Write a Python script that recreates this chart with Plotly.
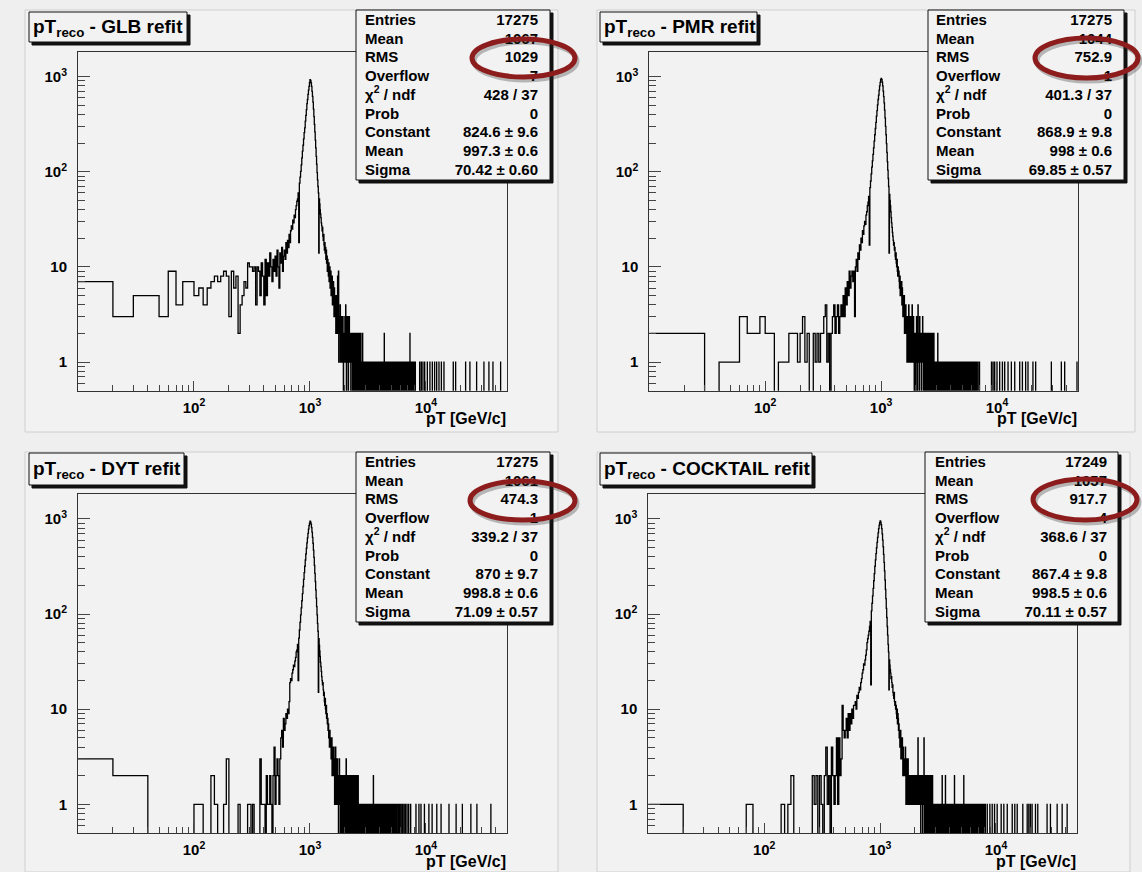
import numpy as np
import plotly.graph_objects as go

W, H = 1142, 872
BIN_WIDTH = 10          # GeV/c per bin
N_BINS = 5000           # 0 - 50000 GeV/c
CORE_START = 400        # pT of the first bin in the *_core arrays
X_RANGE = [1.0, np.log10(50000)]
Y_RANGE = [np.log10(0.5), 3.262]

# ---------------- GLB refit ----------------
glb_low = [(10, 7), (20, 3), (30, 5), (40, 5), (50, 3), (60, 9), (70, 4), (80, 7), (90, 7),
           (100, 5), (110, 6), (120, 4), (130, 6), (140, 7), (150, 8), (160, 7), (170, 8), (180, 9),
           (190, 8), (200, 3), (210, 9), (220, 6), (230, 8), (240, 2), (250, 4), (260, 5), (270, 7),
           (280, 6), (290, 11), (300, 10), (310, 10), (320, 9), (330, 10), (340, 4), (350, 10),
           (360, 9), (370, 5), (380, 11), (390, 8)]
glb_core = [
    4, 12, 5, 11, 8, 14, 10, 7, 12, 9,
    13, 8, 15, 10, 6, 14, 11, 16, 9, 13,
    15, 12, 18, 14, 19, 16, 22, 18, 24, 27,
    25, 31, 29, 35, 33, 40, 44, 49, 52, 60,
    18, 76, 88, 101, 118, 140, 165, 190, 222, 258,
    290, 340, 392, 450, 520, 575, 650, 720, 790, 870,
    930, 905, 860, 790, 700, 620, 540, 455, 380, 315,
    262, 215, 178, 145, 120, 98, 82, 70, 60, 14,
    52, 46, 40, 36, 33, 29, 27, 24, 26, 21,
    19, 22, 17, 15, 18, 14, 16, 12, 15, 11,
    13, 9, 12, 10, 8, 11, 7, 9, 10, 6,
    8, 9, 5, 7, 6, 8, 4, 6, 5, 7,
    5, 3, 6, 4, 5, 3, 4, 2, 5, 3,
    4, 2, 3, 8, 2, 3, 9, 1, 3, 2,
    3, 2, 4, 1, 3, 2, 2, 3, 1, 2,
    2, 1, 3, 2, 0, 2, 1, 2, 1, 2,
    3, 1, 2, 4, 1, 2, 0, 3, 2, 1,
    2, 1, 3, 2, 0, 2, 2, 1, 3, 2,
    2, 2, 1, 2, 2, 0, 2, 1, 2, 2,
    1, 2, 2, 0, 2, 1, 2, 2, 1, 0,
    2, 2, 1, 2, 0, 2, 1, 2, 2, 1,
    0, 2, 1, 2, 1, 2, 0, 2, 1, 1,
    2, 1, 0, 2, 2, 1, 1, 2, 0, 1,
    2, 0, 1, 1, 2, 0, 1, 1, 0, 1,
    0, 1, 1, 0, 2, 1, 0, 1, 1, 0,
    1, 0, 1, 1, 0, 1, 0, 1, 0, 1]
glb_tail = [3020, 3070, 3110, 3160, 3190, 3240, 3300, 3350, 3380, 3420, 3470, 3530, 3580, 3610,
            3660, 3720, 3790, 3830, 3880, 3950, 4010, 4060, 4120, 4180, 4250, 4310, 4420, 4490,
            4560, 4620, 4700, 4770, 4830, 4910, 4990, 5060, 5150, 5230, 5320, 5400, 5480, 5590,
            5680, 5760, 5870, 5960, 6080, 6170, 6290, 6400, 6520, 6650, 6760, 6900, 7040, 7180,
            7330, 7490, 7650, 7800, 7960, 8100,
            8830, 9120, 9420, 9750, 10280, 10820, 11350, 11880, 12370, 12950, 13580, 14300,
            17200, 18030, 21980, 23940, 27350, 31620, 34910, 37830, 44040]
glb_tail2 = [4370, 7280]
glb_stats = ["17275", "1067", "1029", "7", "428 / 37", "0",
             "824.6 ± 9.6", "997.3 ± 0.6", "70.42 ± 0.60"]

# ---------------- PMR refit ----------------
pmr_low = [(10, 2), (20, 2), (40, 1), (50, 1), (60, 3), (70, 2), (80, 2), (90, 3), (100, 2),
           (110, 2), (130, 1), (140, 1), (150, 1), (160, 2), (170, 2), (180, 2), (190, 1),
           (200, 2), (210, 3), (220, 1), (230, 2), (260, 2), (270, 1), (280, 2), (290, 1),
           (300, 2), (310, 2), (320, 3), (330, 4), (340, 1), (350, 2), (370, 2), (380, 3), (390, 4)]
pmr_core = [
    2, 3, 4, 2, 3, 4, 3, 5, 3, 6,
    4, 7, 5, 9, 6, 8, 9, 7, 9, 3,
    10, 12, 9, 14, 12, 17, 15, 20, 18, 24,
    22, 27, 30, 28, 35, 38, 44, 48, 55, 17,
    68, 80, 95, 112, 130, 152, 178, 210, 245, 285,
    330, 385, 440, 505, 575, 640, 720, 800, 870, 930,
    960, 930, 875, 800, 705, 615, 530, 445, 368, 300,
    245, 198, 160, 128, 104, 85, 70, 14, 58, 50,
    44, 38, 33, 29, 26, 23, 21, 19, 17, 18,
    15, 16, 13, 12, 14, 11, 10, 12, 9, 8,
    10, 8, 9, 7, 6, 8, 5, 7, 6, 5,
    7, 4, 6, 5, 3, 5, 4, 3, 5, 2,
    4, 3, 2, 4, 3, 2, 3, 1, 3, 2,
    3, 2, 1, 4, 2, 2, 3, 1, 2, 2,
    1, 3, 2, 1, 2, 4, 1, 2, 1, 2,
    3, 1, 2, 0, 2, 1, 2, 1, 0, 2,
    2, 1, 3, 1, 2, 0, 2, 1, 4, 1,
    2, 2, 1, 0, 2, 3, 1, 2, 1, 2,
    1, 2, 0, 2, 1, 2, 2, 1, 3, 1,
    2, 0, 1, 2, 1, 2, 0, 1, 2, 1,
    1, 2, 1, 0, 2, 1, 1, 2, 0, 1,
    2, 1, 0, 1, 2, 1, 0, 1, 1, 2,
    0, 1, 2, 1, 0, 1, 2, 0, 1, 1,
    0, 2, 1, 0, 1, 1, 0, 2, 1, 0,
    1, 1, 0, 1, 0, 2, 1, 0, 1, 0,
    1, 0, 1, 1, 0, 0, 1, 0, 1, 1]
pmr_tail = [3040, 3150, 3200, 3260, 3310, 3370, 3420, 3490, 3550, 3600, 3680, 3740, 3810, 3870,
            3950, 4020, 4090, 4170, 4240, 4330, 4410, 4500, 4580, 4680, 4770, 4870, 4980, 5090,
            5200, 5320, 5450, 5570, 5700, 5840, 5990, 6150, 6310, 6480, 6660, 6850, 7060,
            8960, 9250, 9550, 10000, 10540, 11130, 11650, 12450, 13300, 14220, 15700, 16560,
            17670, 18510, 20420, 21560, 29440, 35900, 38370, 49000]
pmr_tail2 = [3080]
pmr_stats = ["17275", "1044", "752.9", "1", "401.3 / 37", "0",
             "868.9 ± 9.8", "998 ± 0.6", "69.85 ± 0.57"]

# ---------------- DYT refit ----------------
dyt_low = [(10, 3), (20, 2), (30, 2), (100, 1), (110, 1), (140, 2), (150, 1), (180, 1), (190, 3),
           (240, 1), (290, 1), (300, 1), (320, 1), (370, 3), (380, 1), (390, 1)]
dyt_core = [
    1, 0, 2, 1, 1, 2, 1, 0, 2, 4,
    1, 2, 3, 2, 1, 3, 5, 6, 4, 8,
    6, 7, 9, 8, 10, 9, 12, 19, 21, 20,
    24, 26, 29, 28, 32, 35, 40, 42, 48, 20,
    56, 68, 82, 98, 116, 138, 164, 195, 232, 272,
    318, 370, 428, 492, 560, 632, 705, 780, 850, 905,
    945, 925, 880, 810, 725, 640, 555, 470, 395, 325,
    268, 220, 180, 147, 120, 98, 80, 66, 15, 55,
    47, 41, 36, 31, 28, 25, 22, 20, 18, 19,
    16, 14, 15, 12, 11, 13, 10, 9, 11, 8,
    9, 7, 8, 6, 7, 5, 6, 4, 6, 5,
    4, 5, 3, 4, 5, 2, 4, 3, 3, 2,
    4, 2, 3, 1, 3, 2, 4, 2, 1, 3,
    2, 1, 3, 2, 1, 2, 0, 2, 1, 3,
    1, 2, 1, 0, 2, 1, 1, 2, 0, 1,
    2, 1, 0, 1, 2, 0, 1, 1, 0, 1,
    2, 1, 0, 2, 1, 3, 1, 2, 0, 1,
    2, 1, 2, 0, 1, 2, 2, 1, 0, 2,
    1, 2, 1, 1, 0, 2, 1, 2, 1, 0,
    2, 1, 0, 1, 2, 1, 1, 0, 2, 1,
    0, 1, 2, 1, 0, 1, 1, 2, 0, 1,
    1, 0, 1, 2, 0, 1, 0, 1, 1, 0,
    2, 1, 0, 1, 1, 0, 1, 0, 1, 1,
    0, 1, 0, 1, 0, 1, 1, 0, 0, 1,
    1, 0, 1, 0, 1, 0, 0, 1, 0, 1,
    0, 1, 0, 0, 1, 1, 0, 1, 0, 0]
dyt_tail = [3050, 3100, 3180, 3230, 3290, 3360, 3410, 3480, 3620, 3690, 3750, 3830, 3910,
            3980, 4060, 4150, 4230, 4320, 4400, 4510, 4600, 4710, 4820, 4940, 5060, 5190, 5320,
            5460, 5600, 5760, 5920, 6090, 6270, 6460, 6650, 6870, 7100, 7380,
            8200, 8700, 9060, 9700, 10600, 11300, 12400, 13500, 15800, 18200, 20600, 24400,
            27500, 36300]
dyt_tail2 = [3520]
dyt_stats = ["17275", "1061", "474.3", "1", "339.2 / 37", "0",
             "870 ± 9.7", "998.8 ± 0.6", "71.09 ± 0.57"]

# ---------------- COCKTAIL refit ----------------
cocktail_low = [(10, 1), (70, 1), (140, 1), (160, 1), (170, 2), (260, 2), (270, 1), (280, 2),
                (300, 2), (310, 1), (330, 2), (340, 4), (350, 1), (360, 2), (380, 4), (390, 2)]
cocktail_core = [
    1, 2, 5, 1, 5, 2, 3, 11, 6, 5,
    6, 8, 5, 9, 6, 9, 7, 10, 8, 11,
    11, 12, 10, 14, 13, 15, 17, 16, 19, 21,
    24, 26, 30, 29, 33, 37, 42, 50, 55, 60,
    66, 74, 84, 18, 108, 130, 155, 186, 224, 266,
    318, 372, 432, 498, 568, 640, 715, 790, 860, 915,
    955, 925, 870, 790, 695, 600, 510, 425, 350, 285,
    228, 182, 145, 115, 92, 74, 60, 48, 40, 16,
    33, 29, 26, 24, 21, 22, 19, 17, 18, 15,
    14, 13, 15, 12, 11, 12, 10, 11, 9, 8,
    10, 7, 9, 8, 6, 7, 5, 6, 4, 5,
    6, 3, 5, 4, 3, 5, 4, 2, 4, 3,
    2, 3, 2, 3, 2, 4, 2, 1, 2, 3,
    2, 2, 1, 2, 3, 1, 2, 2, 1, 2,
    2, 1, 2, 2, 1, 2, 2, 1, 2, 2,
    1, 2, 2, 1, 2, 2, 1, 2, 1, 2,
    2, 1, 2, 2, 1, 2, 1, 2, 2, 1,
    2, 2, 5, 1, 2, 2, 1, 2, 2, 1,
    2, 1, 2, 2, 0, 2, 1, 2, 1, 2,
    2, 1, 2, 0, 2, 1, 2, 2, 1, 5,
    1, 2, 0, 2, 1, 2, 1, 0, 2, 1,
    2, 1, 2, 0, 1, 2, 1, 2, 1, 0,
    2, 1, 1, 2, 0, 1, 2, 1, 0, 1,
    1, 2, 0, 1, 1, 0, 2, 1, 0, 1,
    1, 0, 1, 2, 1, 0, 1, 1, 0, 1,
    0, 1, 1, 0, 1, 0, 1, 0, 1, 1]
cocktail_tail = [3020, 3070, 3120, 3180, 3220, 3280, 3330, 3390, 3470, 3520, 3580, 3630, 3710,
                 3770, 3840, 3900, 3960, 4030, 4100, 4160, 4240, 4310, 4450, 4530, 4610, 4690,
                 4780, 4860, 4950, 5040, 5140, 5360, 5460, 5570, 5690, 5800, 5930, 6060, 6190,
                 6330, 6480, 6630, 6790, 6950, 7120, 7300, 7480, 7680, 7880, 8090,
                 8400, 8850, 9270, 9710, 10230, 11080, 11680, 12500, 13800, 14520, 15240,
                 17030, 18580, 19190, 19820, 20490, 21910, 22930, 27590, 29490, 33700, 37230,
                 41100]
cocktail_tail2 = [3430, 3660, 4380, 5270]
cocktail_stats = ["17249", "1057", "917.7", "4", "368.6 / 37", "0",
                  "867.4 ± 9.8", "998.5 ± 0.6", "70.11 ± 0.57"]

stat_labels = ["Entries", "Mean", "RMS", "Overflow", "χ<sup>2</sup> / ndf", "Prob",
               "Constant", "Mean", "Sigma"]

# axis ticks
x_major = [100, 1000, 10000]
x_major_text = ["10<sup>2</sup>", "10<sup>3</sup>", "10<sup>4</sup>"]
x_minor = [m * d for d in (10, 100, 1000) for m in range(2, 10)] + [20000, 30000, 40000, 50000]
y_major = [1, 10, 100, 1000]
y_major_text = ["1", "10", "10<sup>2</sup>", "10<sup>3</sup>"]
y_minor = [0.6, 0.7, 0.8, 0.9] + [m * d for d in (1, 10, 100) for m in range(2, 10)]

FONT = "Liberation Sans"
CANVAS = "#f2f2f2"
OUTSIDE = "#efefef"

panels = [
    dict(name="GLB", low=glb_low, core=glb_core, tail=glb_tail, tail2=glb_tail2, stats=glb_stats,
         frame=(78, 51.7, 507, 390.7), canvas=(25, 10, 558, 432), tbox=(29, 12, 187, 42),
         sbox=(356, 10, 550, 180), lab_x=365, val_x=538, row0=21, ell=(472, 39, 575, 77)),
    dict(name="PMR", low=pmr_low, core=pmr_core, tail=pmr_tail, tail2=pmr_tail2, stats=pmr_stats,
         frame=(649.3, 51.7, 1078, 390.7), canvas=(597, 10, 1135, 432), tbox=(600, 12, 757, 42),
         sbox=(928, 10, 1124, 180), lab_x=936, val_x=1112, row0=21, ell=(1035, 38, 1138, 78)),
    dict(name="DYT", low=dyt_low, core=dyt_core, tail=dyt_tail, tail2=dyt_tail2, stats=dyt_stats,
         frame=(78, 494, 507, 833), canvas=(25, 452, 558, 872), tbox=(29, 453, 184, 485),
         sbox=(356, 452, 550, 622), lab_x=365, val_x=538, row0=463, ell=(470, 481, 575, 520)),
    dict(name="COCKTAIL", low=cocktail_low, core=cocktail_core, tail=cocktail_tail,
         tail2=cocktail_tail2, stats=cocktail_stats,
         frame=(648.3, 494, 1077, 833), canvas=(597, 452, 1130, 872), tbox=(600, 453, 812, 485),
         sbox=(925, 452, 1118, 622), lab_x=935, val_x=1107, row0=463, ell=(1033, 479, 1137, 520)),
]


def px(x):
    return x / W


def py(y):
    return 1 - y / H


def build_counts(p):
    counts = np.zeros(N_BINS)
    for edge, n in p["low"]:
        counts[edge // BIN_WIDTH] += n
    start = CORE_START // BIN_WIDTH
    counts[start:start + len(p["core"])] += np.array(p["core"], dtype=float)
    for edge in p["tail"]:
        counts[edge // BIN_WIDTH] += 1
    for edge in p["tail2"]:
        counts[edge // BIN_WIDTH] += 2
    return counts


fig = go.Figure()
shapes = []
annotations = []

for i, p in enumerate(panels):
    sfx = "" if i == 0 else str(i + 1)
    counts = build_counts(p)
    lefts = np.arange(1, N_BINS) * BIN_WIDTH
    yv = counts[1:].copy()
    xs = np.append(lefts, N_BINS * BIN_WIDTH)
    ys = np.append(yv, yv[-1])
    ys[ys <= 0] = 0.05          # empty bins drop below the axis floor
    fig.add_trace(go.Scatter(x=xs, y=ys, mode="lines", line=dict(shape="hv", color="#000", width=1.3),
                             xaxis="x" + sfx, yaxis="y" + sfx, hoverinfo="skip", showlegend=False))

    x0, y0, x1, y1 = p["frame"]
    fig.layout["xaxis" + sfx] = dict(
        type="log", range=X_RANGE, domain=[px(x0), px(x1)], anchor="y" + sfx,
        showline=True, linecolor="#333", linewidth=1, mirror=True, showgrid=False, zeroline=False,
        ticks="inside", ticklen=10, tickwidth=1, tickcolor="#444",
        tickmode="array", tickvals=x_major, ticktext=x_major_text, ticklabelstandoff=3,
        tickfont=dict(family=FONT, size=15, color="black", weight="bold"),
        minor=dict(ticks="inside", ticklen=6, tickwidth=1, tickcolor="#444",
                   tickmode="array", tickvals=x_minor, showgrid=False),
        fixedrange=True)
    fig.layout["yaxis" + sfx] = dict(
        type="log", range=Y_RANGE, domain=[py(y1), py(y0)], anchor="x" + sfx,
        showline=True, linecolor="#333", linewidth=1, mirror=True, showgrid=False, zeroline=False,
        ticks="inside", ticklen=12, tickwidth=1, tickcolor="#444",
        tickmode="array", tickvals=y_major, ticktext=y_major_text, ticklabelstandoff=7,
        tickfont=dict(family=FONT, size=15, color="black", weight="bold"),
        minor=dict(ticks="inside", ticklen=7, tickwidth=1, tickcolor="#444",
                   tickmode="array", tickvals=y_minor, showgrid=False),
        fixedrange=True)

    # canvas panel behind everything
    cx0, cy0, cx1, cy1 = p["canvas"]
    shapes.append(dict(type="rect", xref="paper", yref="paper", layer="below",
                       x0=px(cx0), x1=px(cx1), y0=py(cy1), y1=py(cy0),
                       fillcolor=CANVAS, line=dict(color="#cfcfcf", width=1)))

    # x-axis title
    annotations.append(dict(text="pT [GeV/c]", xref="paper", yref="paper", x=px(x1 + 1), y=py(y1 + 28),
                            xanchor="right", yanchor="middle", showarrow=False,
                            font=dict(family=FONT, size=16, color="black", weight="bold")))

    # title box text
    tx0, ty0, tx1, ty1 = p["tbox"]
    annotations.append(dict(text="pT<sub>reco</sub> - %s refit" % p["name"], xref="paper", yref="paper",
                            x=px(tx0 + 2), y=py((ty0 + ty1) / 2 + 1), xanchor="left", yanchor="middle",
                            showarrow=False,
                            font=dict(family=FONT, size=19, color="black", weight="bold")))

# overlay subplot in pixel coordinates for boxes and stats text
fig.layout["xaxis5"] = dict(domain=[0, 1], range=[0, W], visible=False, fixedrange=True, anchor="y5")
fig.layout["yaxis5"] = dict(domain=[0, 1], range=[H, 0], visible=False, fixedrange=True, anchor="x5")


def box_path(x0, y0, x1, y1):
    return [x0, x1, x1, x0, x0], [y0, y0, y1, y1, y0]


for p in panels:
    for (bx0, by0, bx1, by1), sh in ((p["tbox"], 3), (p["sbox"], 3)):
        xs, ys = box_path(bx0 + sh, by0 + sh, bx1 + sh, by1 + sh)
        fig.add_trace(go.Scatter(x=xs, y=ys, mode="lines", fill="toself", fillcolor="#111",
                                 line=dict(color="#111", width=1), xaxis="x5", yaxis="y5",
                                 hoverinfo="skip", showlegend=False))
        xs, ys = box_path(bx0, by0, bx1, by1)
        fig.add_trace(go.Scatter(x=xs, y=ys, mode="lines", fill="toself", fillcolor=CANVAS,
                                 line=dict(color="#111", width=1), xaxis="x5", yaxis="y5",
                                 hoverinfo="skip", showlegend=False))
    rows = [p["row0"] + k * 18.75 for k in range(len(stat_labels))]
    tf = dict(family=FONT, size=15, color="black", weight="bold")
    fig.add_trace(go.Scatter(x=[p["lab_x"]] * len(rows), y=rows, mode="text", text=stat_labels,
                             textposition="middle right", textfont=tf, xaxis="x5", yaxis="y5",
                             hoverinfo="skip", showlegend=False))
    fig.add_trace(go.Scatter(x=[p["val_x"]] * len(rows), y=rows, mode="text", text=p["stats"],
                             textposition="middle left", textfont=tf, xaxis="x5", yaxis="y5",
                             hoverinfo="skip", showlegend=False))

    # highlight ring around the RMS value
    ex0, ey0, ex1, ey1 = p["ell"]
    shapes.append(dict(type="circle", xref="paper", yref="paper", layer="above",
                       x0=px(ex0 + 2), x1=px(ex1 + 2), y0=py(ey1 + 3), y1=py(ey0 + 3),
                       line=dict(color="rgba(40,40,40,0.30)", width=5)))
    shapes.append(dict(type="circle", xref="paper", yref="paper", layer="above",
                       x0=px(ex0), x1=px(ex1), y0=py(ey1), y1=py(ey0),
                       line=dict(color="#8d1c1c", width=5)))

fig.update_layout(width=W, height=H, margin=dict(l=0, r=0, t=0, b=0),
                  paper_bgcolor=OUTSIDE, plot_bgcolor="rgba(0,0,0,0)",
                  shapes=shapes, annotations=annotations, showlegend=False)

fig.write_html("out.html")
